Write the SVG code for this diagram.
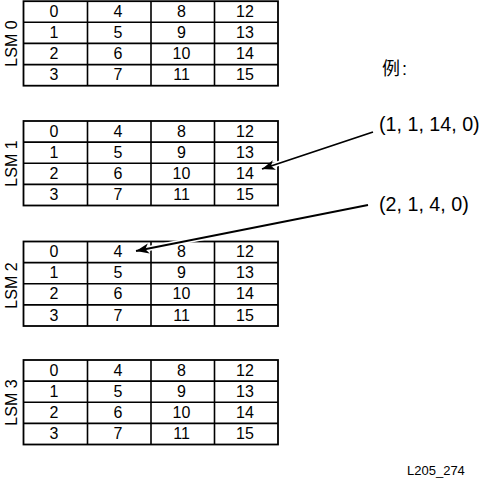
<svg xmlns="http://www.w3.org/2000/svg" width="481" height="479" viewBox="0 0 481 479">
<style>
.grid{fill:none;stroke:#000;stroke-width:1.6}
.frame{fill:#fff;stroke:#000;stroke-width:1.8}
.n{font-family:"Liberation Sans",Arial,sans-serif;font-size:16px;text-anchor:middle;fill:#000}
.lbl{font-family:"Liberation Sans",Arial,sans-serif;font-size:16px;text-anchor:middle;fill:#000}
.note{font-family:"Liberation Sans",Arial,sans-serif;font-size:19.7px;fill:#000}
.halo{stroke:#fff;stroke-width:5;fill:none}
.arr{stroke:#000;stroke-width:1.8;fill:none}
</style>
<defs>
<marker id="ah" markerUnits="userSpaceOnUse" viewBox="-14 -6 16 12" refX="0" refY="0" markerWidth="16" markerHeight="12" orient="auto">
<path d="M0,0 L-13,-5 L-9.5,0 L-13,5 Z" fill="#000"/>
</marker>
<g id="tbl">
<rect class="frame" x="23.5" y="0" width="254.5" height="84.5"/>
<path class="grid" d="M87.5,0V84.5M151,0V84.5M214.5,0V84.5M23.5,21.1H278M23.5,42.2H278M23.5,63.4H278"/>
<text class="n" x="54" y="15.5">0</text><text class="n" x="118" y="15.5">4</text><text class="n" x="181.5" y="15.5">8</text><text class="n" x="245" y="15.5">12</text>
<text class="n" x="54" y="36.7">1</text><text class="n" x="118" y="36.7">5</text><text class="n" x="181.5" y="36.7">9</text><text class="n" x="245" y="36.7">13</text>
<text class="n" x="54" y="57.8">2</text><text class="n" x="118" y="57.8">6</text><text class="n" x="181.5" y="57.8">10</text><text class="n" x="245" y="57.8">14</text>
<text class="n" x="54" y="79">3</text><text class="n" x="118" y="79">7</text><text class="n" x="181.5" y="79">11</text><text class="n" x="245" y="79">15</text>
</g>
</defs>
<g id="lsm0"><use href="#tbl" y="1.2"/><text class="lbl" transform="translate(16.5,43.5) rotate(-90)">LSM 0</text></g>
<g id="lsm1"><use href="#tbl" y="121"/><text class="lbl" transform="translate(16.5,163.5) rotate(-90)">LSM 1</text></g>
<g id="lsm2"><use href="#tbl" y="241.5"/><text class="lbl" transform="translate(16.5,285.5) rotate(-90)">LSM 2</text></g>
<g id="lsm3"><use href="#tbl" y="360"/><text class="lbl" transform="translate(16.5,402.5) rotate(-90)">LSM 3</text></g>
<g id="connectors">
<line class="halo" x1="373" y1="132" x2="272" y2="165.6"/>
<line class="arr" x1="373" y1="132" x2="262" y2="169" marker-end="url(#ah)"/>
<line class="halo" x1="368" y1="205" x2="146" y2="249"/>
<line class="arr" x1="368" y1="205" x2="136" y2="251" marker-end="url(#ah)"/>
</g>
<g id="labels">
<text x="382" y="75" style="font-family:'Liberation Sans','Noto Sans CJK SC',sans-serif;font-size:18px">例<tspan dx="2">:</tspan></text>
<text class="note" x="379" y="130.5">(1, 1, 14, 0)</text>
<text class="note" x="379" y="211">(2, 1, 4, 0)</text>
<text x="407" y="475" style="font-family:'Liberation Sans',Arial,sans-serif;font-size:13px">L205_274</text>
</g>
</svg>
